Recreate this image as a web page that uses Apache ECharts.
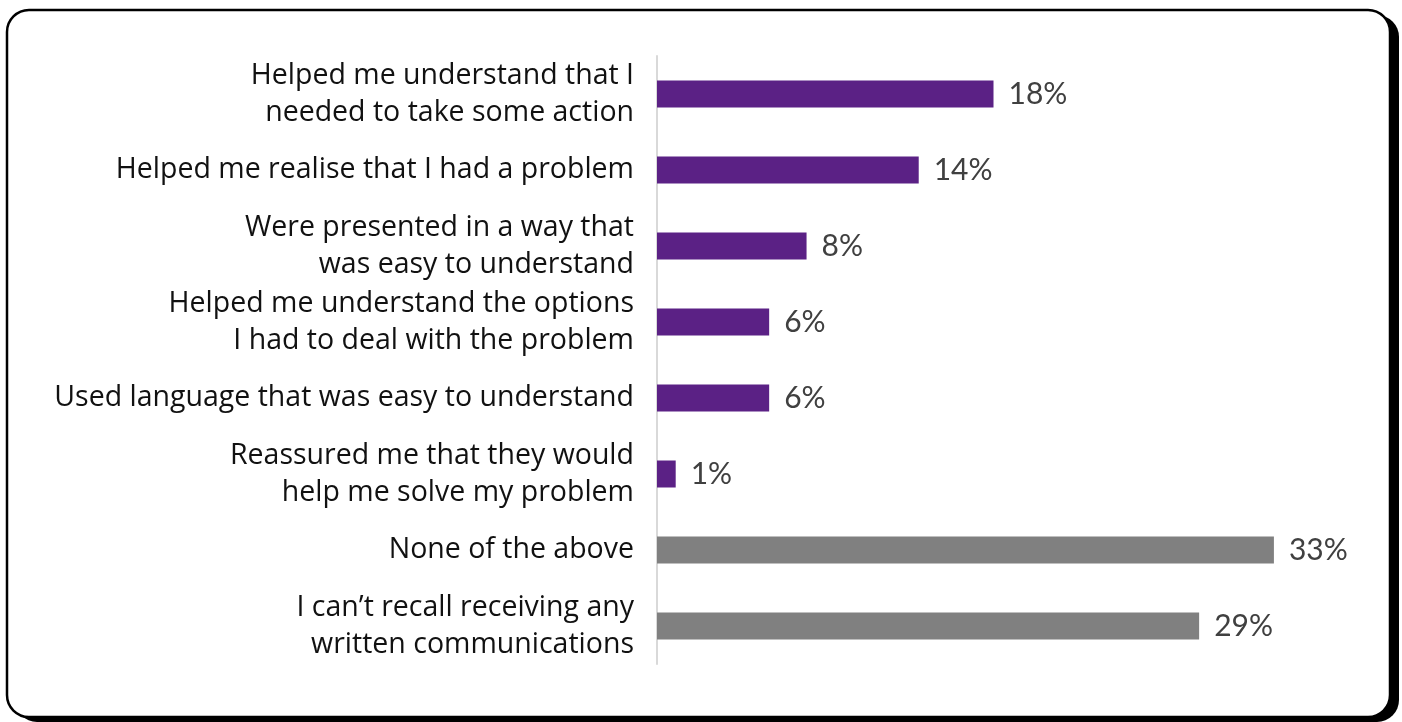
<!DOCTYPE html>
<html>
<head>
<meta charset="utf-8">
<title>Written communications</title>
<script src="https://cdn.jsdelivr.net/npm/echarts@6/dist/echarts.min.js"></script>
<style>
  html, body { margin: 0; padding: 0; background: #ffffff; }
  #chart { width: 1402px; height: 722px; }
</style>
</head>
<body>
<div id="chart"></div>
<script>
// Survey answers, top to bottom
const categories = [
  'Helped me understand that I\nneeded to take some action',
  'Helped me realise that I had a problem',
  'Were presented in a way that\nwas easy to understand',
  'Helped me understand the options\nI had to deal with the problem',
  'Used language that was easy to understand',
  'Reassured me that they would\nhelp me solve my problem',
  'None of the above',
  'I can\u2019t recall receiving any\nwritten communications'
];
// Share of respondents (%)
const values = [18, 14, 8, 6, 6, 1, 33, 29];
// Whether the answer names a benefit of the communication
const answerKind = ['benefit', 'benefit', 'benefit', 'benefit', 'benefit', 'benefit', 'other', 'other'];

const kindColor = { benefit: '#5b2185', other: '#808080' };
const LABEL_FONT = '"Open Sans", Lato, sans-serif';
const VALUE_FONT = 'Lato, "Open Sans", sans-serif';

const chart = echarts.init(document.getElementById('chart'), null, { renderer: 'canvas' });

chart.setOption({
  backgroundColor: '#ffffff',
  animation: false,
  graphic: [
    {
      // solid offset shadow behind the card
      type: 'rect',
      z: -20,
      silent: true,
      shape: { x: 15, y: 15, width: 1384, height: 707, r: 22 },
      style: { fill: '#000000' }
    },
    {
      // the card
      type: 'rect',
      z: -10,
      silent: true,
      shape: { x: 7, y: 10, width: 1383, height: 707, r: 22 },
      style: { fill: '#ffffff', stroke: '#000000', lineWidth: 2.5 }
    }
  ],
  grid: { left: 657, right: 72, top: 56, bottom: 58, containLabel: false },
  xAxis: {
    type: 'value',
    min: 0,
    max: 36,
    show: false
  },
  yAxis: {
    type: 'category',
    inverse: true,
    data: categories,
    axisLine: { show: true, lineStyle: { color: '#d9d9d9', width: 2 } },
    axisTick: { show: false },
    axisLabel: {
      margin: 23,
      fontFamily: LABEL_FONT,
      fontSize: 28.5,
      lineHeight: 37,
      color: '#111111',
      align: 'right'
    }
  },
  series: [{
    type: 'bar',
    barWidth: 27,
    data: values.map((v, i) => ({
      value: v,
      itemStyle: { color: kindColor[answerKind[i]] }
    })),
    label: {
      show: true,
      position: 'right',
      distance: 15,
      formatter: p => p.value + '%',
      fontFamily: VALUE_FONT,
      fontSize: 30,
      color: '#404040'
    }
  }]
});
</script>
</body>
</html>
